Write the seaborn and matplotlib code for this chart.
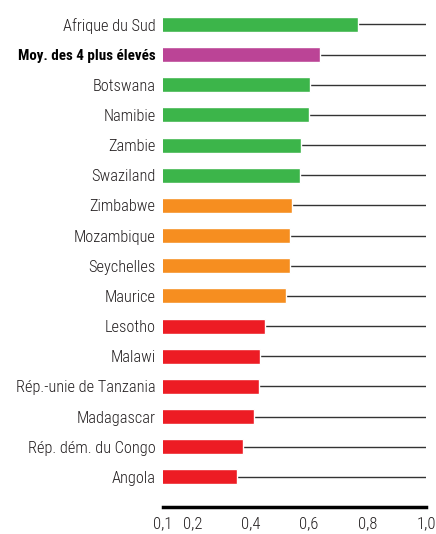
import matplotlib
matplotlib.use("Agg")
import matplotlib.pyplot as plt
import seaborn as sns

countries = [
    "Afrique du Sud", "Moy. des 4 plus élevés", "Botswana", "Namibie", "Zambie",
    "Swaziland", "Zimbabwe", "Mozambique", "Seychelles", "Maurice", "Lesotho",
    "Malawi", "Rép.-unie de Tanzania", "Madagascar", "Rép. dém. du Congo", "Angola",
]
values = [0.767, 0.636, 0.603, 0.600, 0.572, 0.569, 0.541, 0.535, 0.535, 0.521,
          0.449, 0.432, 0.429, 0.411, 0.374, 0.353]
groups = ["high", "avg", "high", "high", "high", "high", "mid", "mid", "mid", "mid",
          "low", "low", "low", "low", "low", "low"]
group_colors = {"high": "#3cb54a", "avg": "#bb4496", "mid": "#f68e20", "low": "#ed1c24"}
ticks = [0.1, 0.2, 0.4, 0.6, 0.8, 1.0]

sns.set_style("white")
plt.rcParams["font.family"] = ["Roboto Condensed", "DejaVu Sans"]

fig = plt.figure(figsize=(4.36, 5.34), dpi=100)
ax = fig.add_axes([0.374, 0.0506, 0.603, 0.9318])

palette = [group_colors[g] for g in groups]
sns.barplot(x=values, y=countries, hue=countries, palette=palette, legend=False,
            width=0.5, orient="h", saturation=1, ax=ax, zorder=3)

# thin guide lines from each bar end out to 1,0
ax.hlines(range(len(countries)), values, 1.0, color="#333333", lw=1.0, zorder=2)

ax.set_xlim(0.1, 1.0)
ax.set_ylim(16, -0.5)
ax.set_xticks(ticks)
ax.set_xticklabels([f"{t:.1f}".replace(".", ",") for t in ticks],
                   fontsize=12, fontweight=300, color="#231f20")
ax.tick_params(axis="x", length=0, pad=7)
ax.tick_params(axis="y", length=0, pad=5.5)
for lab in ax.get_yticklabels():
    lab.set_fontsize(11.8)
    lab.set_color("#231f20")
    lab.set_fontweight(300)
    if lab.get_text().startswith("Moy."):
        lab.set_fontweight("bold")
        lab.set_fontsize(10.8)
        lab.set_color("black")
ax.set_xlabel("")
ax.set_ylabel("")
for s in ["top", "right", "left"]:
    ax.spines[s].set_visible(False)
ax.spines["bottom"].set_linewidth(2.5)
ax.spines["bottom"].set_color("black")

fig.savefig("out.png", dpi=100)
